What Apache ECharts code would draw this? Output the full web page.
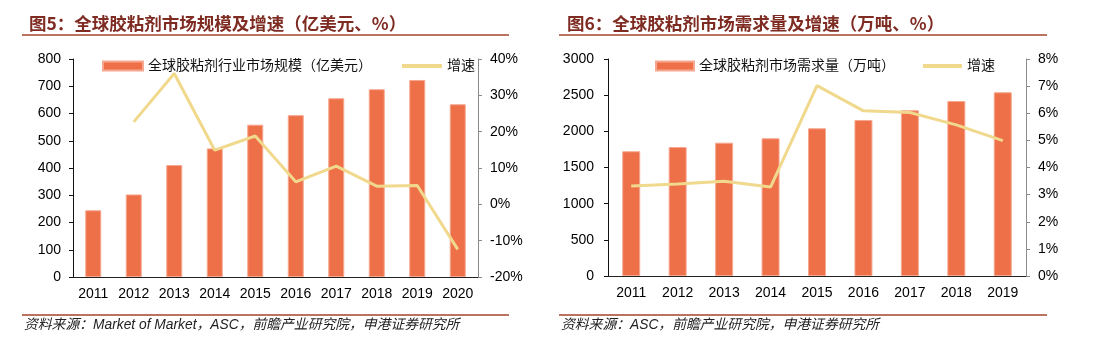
<!DOCTYPE html>
<html><head><meta charset="utf-8">
<script src="https://cdn.jsdelivr.net/npm/echarts@6/dist/echarts.min.js"></script>
<style>html,body{margin:0;padding:0;background:#fff}#c{width:1100px;height:364px}</style>
</head><body><div id="c"></div>
<script>
var years1 = ['2011','2012','2013','2014','2015','2016','2017','2018','2019','2020'];
var size1 = [245, 303, 411, 472, 559, 594, 656, 689, 723, 634];
var growth1 = [null, 22.7, 36.0, 14.9, 18.8, 6.2, 10.5, 5.0, 5.2, -12.4];
var years2 = ['2011','2012','2013','2014','2015','2016','2017','2018','2019'];
var demand2 = [1725, 1783, 1843, 1904, 2042, 2157, 2291, 2419, 2540];
var growth2 = [3.32, 3.39, 3.49, 3.28, 7.02, 6.09, 6.03, 5.57, 4.99];
var title1 = '图5：全球胶粘剂市场规模及增速（亿美元、%）';
var title2 = '图6：全球胶粘剂市场需求量及增速（万吨、%）';
var barName1 = '全球胶粘剂行业市场规模（亿美元）';
var barName2 = '全球胶粘剂市场需求量（万吨）';
var lineName = '增速';
var source1 = '资料来源：Market of Market，ASC，前瞻产业研究院，申港证券研究所';
var source2 = '资料来源：ASC，前瞻产业研究院，申港证券研究所';

var FONT = '"Liberation Sans", "Noto Sans CJK SC", sans-serif';
var BAR = '#EE7049', BAR_BORDER = '#F6A890', LINE = '#F0D88C';
var TITLE_C = '#7E2B22', RULE_C = '#A5432A';
var chart = echarts.init(document.getElementById('c'));

function xAxis(grid, data) {
  return {type:'category', gridIndex:grid, data:data,
    axisLine:{lineStyle:{color:'#222', width:1}},
    axisTick:{inside:true, length:4, lineStyle:{color:'#222'}},
    axisLabel:{color:'#000', fontSize:14, fontFamily:FONT, margin:10}};
}
function yAxis(grid, pos, min, max, interval, suffix, color, margin) {
  return {type:'value', gridIndex:grid, position:pos, min:min, max:max, interval:interval,
    splitLine:{show:false},
    axisLine:{show:true, lineStyle:{color:color, width:1}},
    axisTick:{show:true, length:4, lineStyle:{color:color}},
    axisLabel:{color:'#000', fontSize:14, fontFamily:FONT, margin:margin,
      formatter:function(v){ return String(v) + suffix; }}};
}
var legText = {color:'#111', fontSize:14, fontFamily:FONT};
var titleStyle = {fontFamily:'"Noto Sans CJK SC", sans-serif', fontWeight:'bold', fontSize:17.5, color:TITLE_C};
var srcFont = 'italic 13.8px "Liberation Sans", "Noto Sans CJK SC", sans-serif';

chart.setOption({
  animation:false,
  title:[
    {text:title1, left:24, top:10, textStyle:titleStyle},
    {text:title2, left:562, top:10, textStyle:titleStyle}
  ],
  legend:[
    {left:97, top:54, itemWidth:40, itemHeight:9, icon:'rect', data:[barName1], textStyle:legText},
    {left:397, top:54, itemWidth:40, itemHeight:4, icon:'rect', data:[lineName], textStyle:legText},
    {left:650, top:54, itemWidth:38, itemHeight:9, icon:'rect', data:[barName2], textStyle:legText},
    {left:918, top:54, itemWidth:39, itemHeight:4, icon:'rect', data:[lineName], textStyle:legText}
  ],
  grid:[
    {left:73, right:622, top:59, bottom:87},
    {left:608, right:74, top:59, bottom:88}
  ],
  xAxis:[xAxis(0, years1), xAxis(1, years2)],
  yAxis:[
    yAxis(0,'left',0,800,100,'','#111',12),
    yAxis(0,'right',-20,40,10,'%','#8a8a8a',12),
    yAxis(1,'left',0,3000,500,'','#111',14),
    yAxis(1,'right',0,8,1,'%','#8a8a8a',12)
  ],
  series:[
    {name:barName1, type:'bar', xAxisIndex:0, yAxisIndex:0, data:size1, barWidth:16,
      itemStyle:{color:BAR, borderColor:BAR_BORDER, borderWidth:1}},
    {name:lineName, type:'line', xAxisIndex:0, yAxisIndex:1, data:growth1, showSymbol:false, symbol:'none',
      lineStyle:{color:LINE, width:3}, itemStyle:{color:LINE}, connectNulls:false},
    {name:barName2, type:'bar', xAxisIndex:1, yAxisIndex:2, data:demand2, barWidth:18,
      itemStyle:{color:BAR, borderColor:BAR_BORDER, borderWidth:1}},
    {name:lineName, type:'line', xAxisIndex:1, yAxisIndex:3, data:growth2, showSymbol:false, symbol:'none',
      lineStyle:{color:LINE, width:3}, itemStyle:{color:LINE}}
  ],
  graphic:[
    {type:'line', shape:{x1:22, y1:35, x2:509, y2:35}, style:{stroke:RULE_C, lineWidth:1.5}},
    {type:'line', shape:{x1:559, y1:35, x2:1047, y2:35}, style:{stroke:RULE_C, lineWidth:1.5}},
    {type:'line', shape:{x1:22, y1:315, x2:509, y2:315}, style:{stroke:RULE_C, lineWidth:1.5}},
    {type:'line', shape:{x1:559, y1:315, x2:1047, y2:315}, style:{stroke:RULE_C, lineWidth:1.5}},
    {type:'text', left:24, top:318, style:{text:source1, fill:'#222', font:srcFont}},
    {type:'text', left:561, top:318, style:{text:source2, fill:'#222', font:srcFont}}
  ]
});
</script></body></html>
